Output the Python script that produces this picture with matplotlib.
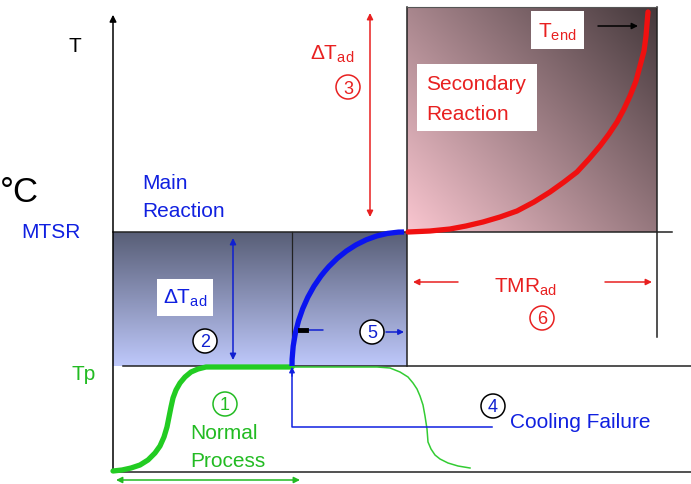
import numpy as np
import matplotlib
matplotlib.use("Agg")
import matplotlib.pyplot as plt
from matplotlib.patches import Circle, Rectangle, Arc

plt.rcParams['font.family'] = ['Liberation Sans', 'DejaVu Sans']
plt.rcParams['mathtext.fontset'] = 'custom'
plt.rcParams['mathtext.rm'] = 'Liberation Sans'
plt.rcParams['mathtext.it'] = 'Liberation Sans'

# levels / times of the schematic (in picture units, y grows downward)
t_start, t_fail, t_mtsr, t_end = 113, 292, 407, 657
T_base, T_p, T_mtsr, T_top = 473, 367, 233, 8

# curve points
normal_x = [113, 122, 131, 140, 148, 155, 160, 164, 167, 169, 171, 173, 176, 180, 185, 191, 198, 206, 220, 292]
normal_y = [472, 471, 469, 466, 461, 454, 447, 438, 428, 418, 408, 399, 391, 384, 378, 373, 370, 368, 368, 368]
cooled_x = [292, 377, 390, 400, 408, 413, 417, 420, 423, 425, 427, 428, 431, 435, 440, 448, 458, 470]
cooled_y = [368, 368, 369, 373, 378, 384, 390, 397, 406, 417, 430, 443, 450, 456, 460, 464, 467, 469]
sec_x = [408, 430, 450, 466, 483, 500, 517, 534, 550, 564, 577, 589, 600, 609, 617, 624, 630, 636, 640, 644, 646, 648]
sec_y = [233, 232, 230, 227, 223, 218, 212, 203, 193, 183, 173, 160, 147, 135, 123, 110, 97, 82, 67, 52, 37, 13]

fig = plt.figure(figsize=(6.91, 4.85), dpi=100)
ax = fig.add_axes([0, 0, 1, 1])
ax.set_xlim(0, 691)
ax.set_ylim(485, 0)
ax.axis('off')

# gradient boxes
blue_top = np.array([0x58, 0x5e, 0x76]) / 255
blue_bot = np.array([0xbe, 0xc8, 0xfb]) / 255
s = np.linspace(0, 1, 200)[:, None, None]
blue_img = blue_top * (1 - s) + blue_bot * s
ax.imshow(blue_img, extent=(t_start, t_mtsr, T_p, T_mtsr), aspect='auto', zorder=1)

pink = np.array([0xfa, 0xc6, 0xd0]) / 255
dark = np.array([0x44, 0x38, 0x3b]) / 255
gx, gy = np.meshgrid(np.linspace(0, 1, 200), np.linspace(0, 1, 200))
g = np.clip((gx * 0.55 + (1 - gy) * 0.45), 0, 1)[..., None]
sec_img = pink * (1 - g) + dark * g
ax.imshow(sec_img, extent=(t_mtsr, t_end, T_mtsr, T_top), aspect='auto', zorder=1)

# frame lines
k = dict(color='#222222', lw=1.1, zorder=2)
ax.plot([t_start, 691], [T_base, T_base], **k)
ax.plot([123, 691], [T_p, T_p], **k)
ax.plot([t_start, 672], [T_mtsr, T_mtsr], **k)
ax.plot([t_fail, t_fail], [T_mtsr, T_p], color='#222222', lw=0.9, zorder=2)
ax.plot([t_mtsr, t_mtsr], [T_top, T_p], **k)
ax.plot([t_end, t_end], [T_top, 338], **k)
ax.plot([t_mtsr, t_end], [T_top, T_top], color='#555555', lw=0.8, zorder=2)
ax.annotate('', xy=(t_start, 13), xytext=(t_start, T_base),
            arrowprops=dict(arrowstyle='-|>', color='black', lw=1.1, mutation_scale=10), zorder=3)

# curves
ax.plot(cooled_x, cooled_y, color='#33cc33', lw=1.1, zorder=3)
ax.plot(normal_x, normal_y, color='#22cc22', lw=3.8, solid_capstyle='round',
        solid_joinstyle='round', zorder=4)
# main reaction: quarter ellipse from (t_fail, T_p) to (t_mtsr, T_mtsr)
ax.add_patch(Arc((t_mtsr - 3, T_p), 2 * (t_mtsr - 3 - t_fail), 2 * (T_p - T_mtsr),
                 theta1=180, theta2=270, color='#0a14f0', lw=3.8, zorder=4))
ax.plot(sec_x, sec_y, color='#f01010', lw=3.8, solid_capstyle='round',
        solid_joinstyle='round', zorder=4)

# cooling failure marker
ax.plot([t_fail, t_fail, 492], [372, 428, 428], color='#1020e0', lw=1.1, zorder=3)
ax.annotate('', xy=(t_fail, 365), xytext=(t_fail, 380),
            arrowprops=dict(arrowstyle='-|>', color='#1020e0', lw=1, mutation_scale=8), zorder=5)

# arrows
def arrow(x0, y0, x1, y1, color, style='-|>', ms=10, lw=1.1):
    ax.annotate('', xy=(x1, y1), xytext=(x0, y0),
                arrowprops=dict(arrowstyle=style, color=color, lw=lw, mutation_scale=ms,
                                shrinkA=0, shrinkB=0), zorder=5)

arrow(370, 218, 370, 14, '#e82020', style='<|-|>', ms=9)
arrow(233, 361, 233, 239, '#1020d0', style='<|-|>', ms=9)
arrow(116, 481, 300, 481, '#22bb22', style='<|-|>', ms=9)
arrow(458, 283, 413, 283, '#e82020', ms=9)
arrow(605, 283, 652, 283, '#e82020', ms=9)
arrow(598, 27, 638, 27, 'black', ms=9)
arrow(386, 333, 404, 333, '#1020d0', ms=8)
arrow(323, 331, 299, 331, '#1020d0', style='-', ms=8)
ax.plot([300, 306], [331, 331], color='black', lw=3.5, zorder=6)

# circled numbers
def circled(x, y, n, edge, txt, face):
    ax.add_patch(Circle((x, y), 12, facecolor=face, edgecolor=edge, lw=1.1, zorder=6))
    ax.text(x, y + 1, n, color=txt, fontsize=13, ha='center', va='center', zorder=7)

circled(225, 405, '1', '#22bb22', '#22bb22', 'none')
circled(205, 342, '2', 'black', '#1020d0', 'white')
circled(348, 88, '3', '#e82020', '#e82020', 'none')
circled(493, 407, '4', 'black', '#1020d0', 'white')
circled(372, 333, '5', 'black', '#1020d0', 'white')
circled(542, 319, '6', '#e82020', '#e82020', 'none')

# white label boxes
for (x0, y0, x1, y1) in [(157, 280, 213, 317), (417, 65, 537, 132), (531, 12, 584, 50)]:
    ax.add_patch(Rectangle((x0, y0), x1 - x0, y1 - y0, facecolor='white', edgecolor='none', zorder=5))

fs = 15
blue, red, green = '#1020e0', '#e82020', '#22bb22'
ax.text(75, 47, 'T', fontsize=fs, ha='center', va='center')
ax.text(0, 193, '°C', fontsize=25, ha='left', va='center')
ax.text(51, 233, 'MTSR', fontsize=fs, color=blue, ha='center', va='center')
ax.text(84, 375, 'Tp', fontsize=fs, color=green, ha='center', va='center')
ax.text(142, 184, 'Main', fontsize=fs, color=blue, ha='left', va='center')
ax.text(142, 212, 'Reaction', fontsize=fs, color=blue, ha='left', va='center')
ax.text(185, 298, r'$\mathrm{ΔT}_{\mathrm{ad}}$', fontsize=fs, color=blue, ha='center', va='center', zorder=7)
ax.text(332, 54, r'$\mathrm{ΔT}_{\mathrm{ad}}$', fontsize=fs, color=red, ha='center', va='center', zorder=7)
ax.text(426, 85, 'Secondary', fontsize=fs, color=red, ha='left', va='center', zorder=7)
ax.text(426, 114, 'Reaction', fontsize=fs, color=red, ha='left', va='center', zorder=7)
ax.text(557, 32, r'$\mathrm{T}_{\mathrm{end}}$', fontsize=fs, color=red, ha='center', va='center', zorder=7)
ax.text(525, 287, r'$\mathrm{TMR}_{\mathrm{ad}}$', fontsize=fs, color=red, ha='center', va='center', zorder=7)
ax.text(510, 423, 'Cooling Failure', fontsize=fs, color=blue, ha='left', va='center', zorder=7)
ax.text(190, 434, 'Normal', fontsize=fs, color=green, ha='left', va='center', zorder=7)
ax.text(190, 462, 'Process', fontsize=fs, color=green, ha='left', va='center', zorder=7)

fig.savefig('out.png', dpi=100)
